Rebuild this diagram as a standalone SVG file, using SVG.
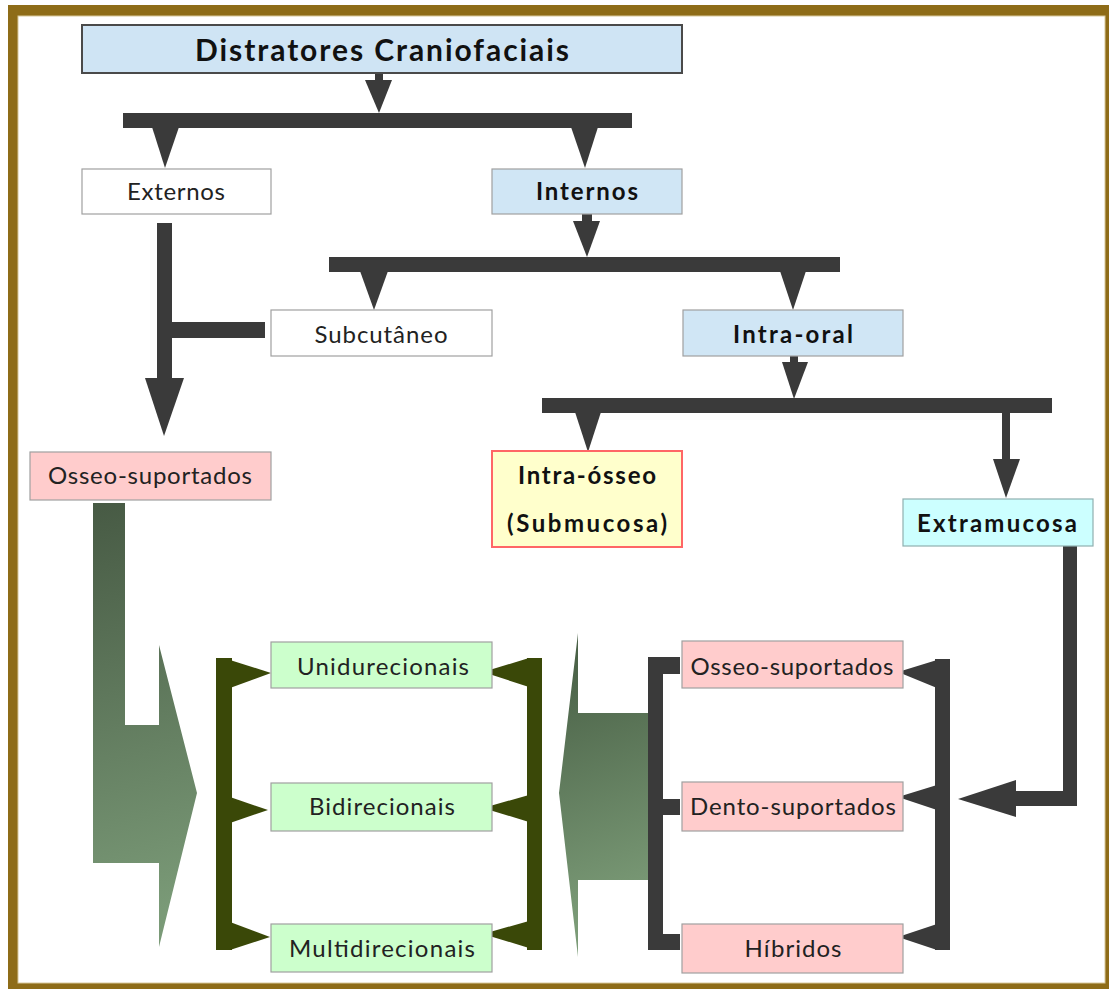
<svg xmlns="http://www.w3.org/2000/svg" width="1109" height="989" viewBox="0 0 1109 989">
<style>
  .box { stroke: #a0a0a0; stroke-width: 1.2; }
  .t { font-family: "Lato", "Liberation Sans", sans-serif; font-size: 24px; fill: #222; text-anchor: middle; }
  .b { font-weight: bold; fill: #111; }
  .title { font-size: 30px; }
  .con { fill: #3a3a3a; }
  .olive { fill: #3a4808; }
</style>
<defs>
  <linearGradient id="gL" gradientUnits="userSpaceOnUse" x1="93" y1="503" x2="197" y2="900">
    <stop offset="0" stop-color="#475a44"/>
    <stop offset="1" stop-color="#7a9a77"/>
  </linearGradient>
  <linearGradient id="gR" gradientUnits="userSpaceOnUse" x1="565" y1="660" x2="648" y2="900">
    <stop offset="0" stop-color="#4a6147"/>
    <stop offset="1" stop-color="#7b9b77"/>
  </linearGradient>
</defs>

<!-- frame -->
<rect x="8" y="5" width="1101" height="984" fill="#8e6c18"/>
<rect x="18" y="16" width="1087" height="967" fill="#ffffff" stroke="#d8c89a" stroke-width="1"/>

<g id="connectors">
  <!-- title to bar1 -->
  <rect class="con" x="375" y="73" width="8" height="8"/>
  <polygon class="con" points="365,80 392,80 379,113"/>
  <rect class="con" x="123" y="113" width="509" height="15"/>
  <polygon class="con" points="152,127 179,127 165,168"/>
  <polygon class="con" points="571,127 598,127 585,168"/>
  <!-- Internos to bar2 -->
  <rect class="con" x="582" y="214" width="10" height="8"/>
  <polygon class="con" points="573,221 600,221 587,257"/>
  <rect class="con" x="329" y="257" width="511" height="15"/>
  <polygon class="con" points="360,271 388,271 374,310"/>
  <polygon class="con" points="780,271 806,271 793,310"/>
  <!-- Externos down -->
  <rect class="con" x="157" y="223" width="15" height="156"/>
  <polygon class="con" points="145,378 184,378 164,436"/>
  <rect class="con" x="171" y="322" width="94" height="16"/>
  <!-- Intra-oral to bar3 -->
  <rect class="con" x="790" y="356" width="8" height="7"/>
  <polygon class="con" points="782,362 808,362 794,399"/>
  <rect class="con" x="542" y="398" width="510" height="15"/>
  <polygon class="con" points="575,412 601,412 588,452"/>
  <rect class="con" x="1002" y="412" width="8" height="48"/>
  <polygon class="con" points="993,459 1020,459 1006,498"/>
  <!-- Extramucosa to right bracket -->
  <rect class="con" x="1063" y="546" width="14" height="260"/>
  <rect class="con" x="1015" y="791" width="62" height="15"/>
  <polygon class="con" points="1016,780 1016,817 958,799"/>
  <!-- right bracket (pink boxes) -->
  <rect class="con" x="935" y="659" width="15" height="291"/>
  <polygon class="con" points="937,660 937,688 898,672"/>
  <polygon class="con" points="937,785 937,810 898,797"/>
  <polygon class="con" points="937,924 937,950 898,937"/>
  <!-- left bracket (pink boxes) -->
  <rect class="con" x="648" y="657" width="15" height="293"/>
  <rect class="con" x="648" y="657" width="32" height="17"/>
  <rect class="con" x="662" y="799" width="18" height="16"/>
  <rect class="con" x="648" y="934" width="32" height="16"/>
  <!-- gradient arrows -->
  <polygon fill="url(#gL)" points="93,503 125,503 125,725 159,725 159,645 197,793 159,947 159,863 93,863"/>
  <polygon fill="url(#gR)" points="648,713 578,713 578,633 559,793 578,957 578,880 648,880"/>
  <!-- olive brackets -->
  <rect class="olive" x="216" y="658" width="16" height="292"/>
  <polygon class="olive" points="230,660 230,688 271,673"/>
  <polygon class="olive" points="230,797 230,823 268,810"/>
  <polygon class="olive" points="230,922 230,950 270,937"/>
  <rect class="olive" x="527" y="658" width="15" height="292"/>
  <polygon class="olive" points="529,658 529,687 483,672"/>
  <polygon class="olive" points="529,795 529,822 483,808"/>
  <polygon class="olive" points="529,921 529,948 483,934"/>
</g>

<g id="n-title">
  <rect x="82" y="25" width="600" height="48" fill="#cfe4f4" stroke="#4a4a4a" stroke-width="2"/>
  <text class="t b title" x="382" y="61" textLength="374">Distratores Craniofaciais</text>
</g>
<g id="n-externos">
  <rect class="box" x="82" y="169" width="189" height="45" fill="#ffffff"/>
  <text class="t" x="176" y="200" textLength="98">Externos</text>
</g>
<g id="n-internos">
  <rect class="box" x="492" y="169" width="190" height="45" fill="#d0e6f5"/>
  <text class="t b" x="587" y="200" textLength="102">Internos</text>
</g>
<g id="n-subcutaneo">
  <rect class="box" x="271" y="310" width="221" height="46" fill="#ffffff"/>
  <text class="t" x="381" y="343" textLength="133">Subcutâneo</text>
</g>
<g id="n-intraoral">
  <rect class="box" x="683" y="310" width="220" height="46" fill="#d0e6f5"/>
  <text class="t b" x="793" y="343" textLength="120">Intra-oral</text>
</g>
<g id="n-osseo-left">
  <rect class="box" x="30" y="452" width="241" height="48" fill="#ffcccc"/>
  <text class="t" x="150" y="484" textLength="204">Osseo-suportados</text>
</g>
<g id="n-intraosseo">
  <rect x="492" y="451" width="190" height="96" fill="#ffffcc" stroke="#ff6666" stroke-width="2"/>
  <text class="t b" x="587" y="484" textLength="138">Intra-ósseo</text>
  <text class="t b" x="587" y="532" textLength="160">(Submucosa)</text>
</g>
<g id="n-extramucosa">
  <rect x="903" y="499" width="190" height="47" fill="#ccffff" stroke="#8fb0b0" stroke-width="1.2"/>
  <text class="t b" x="997" y="532" textLength="160">Extramucosa</text>
</g>
<g id="n-uni">
  <rect class="box" x="271" y="642" width="221" height="46" fill="#ccffcc"/>
  <text class="t" x="383" y="675" textLength="172">Unidurecionais</text>
</g>
<g id="n-bi">
  <rect class="box" x="271" y="783" width="221" height="48" fill="#ccffcc"/>
  <text class="t" x="382" y="815" textLength="146">Bidirecionais</text>
</g>
<g id="n-multi">
  <rect class="box" x="271" y="924" width="221" height="48" fill="#ccffcc"/>
  <text class="t" x="382" y="957" textLength="186">Multidirecionais</text>
</g>
<g id="n-osseo-right">
  <rect class="box" x="682" y="641" width="221" height="47" fill="#ffcccc"/>
  <text class="t" x="792" y="675" textLength="203">Osseo-suportados</text>
</g>
<g id="n-dento">
  <rect class="box" x="682" y="782" width="221" height="49" fill="#ffcccc"/>
  <text class="t" x="793" y="815" textLength="206">Dento-suportados</text>
</g>
<g id="n-hibridos">
  <rect class="box" x="682" y="924" width="221" height="49" fill="#ffcccc"/>
  <text class="t" x="793" y="957" textLength="97">Híbridos</text>
</g>
</svg>
